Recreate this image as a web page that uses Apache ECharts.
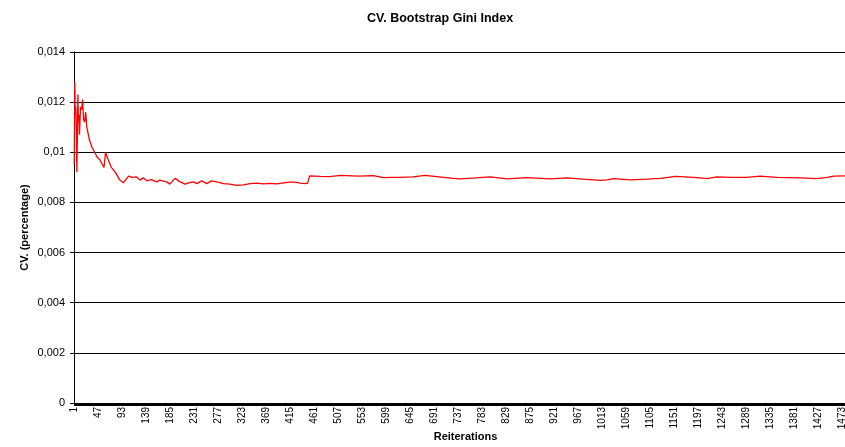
<!DOCTYPE html>
<html>
<head>
<meta charset="utf-8">
<script src="https://cdn.jsdelivr.net/npm/echarts@6/dist/echarts.min.js"></script>
<style>
	html, body { margin: 0; padding: 0; background: #fff; }
	#chartmain { width: 845px; height: 447px; }
</style>
</head>
<body>
<div id="chartmain"></div>
<script>
var iterations = [1, 2, 3, 4, 5, 6, 8, 9, 10, 11, 13, 15, 17, 19, 21, 23, 25, 30, 35, 40,
	45, 50, 55, 58, 61, 66, 72, 80, 88, 95, 105, 112, 120, 127, 133, 140, 149, 159, 165, 178,
	184, 194, 204, 213, 220, 229, 236, 245, 255, 264, 274, 287, 299, 312, 325, 338, 351, 363, 376, 389,
	402, 415, 424, 434, 443, 448, 450, 452, 472, 490, 511, 545, 574, 593, 610, 625, 650, 673, 700, 727,
	740, 770, 798, 830, 868, 913, 945, 975, 996, 1009, 1022, 1034, 1066, 1098, 1124, 1153, 1188, 1213, 1232, 1260,
	1290, 1315, 1347, 1392, 1424, 1443, 1456, 1478, 1500];
var cvValues = [0.0095, 0.0128, 0.0115, 0.0118, 0.0108, 0.0092, 0.0123, 0.0112, 0.0115, 0.0107, 0.0118, 0.0117, 0.0121, 0.0113, 0.0112, 0.0116, 0.0110, 0.0105, 0.0102, 0.0100,
	0.0098, 0.0097, 0.0095, 0.0094, 0.0100, 0.0097, 0.0094, 0.0092, 0.0089, 0.00878, 0.00905, 0.00900, 0.00902, 0.00889, 0.00898, 0.00886, 0.00891, 0.00882, 0.00889, 0.00882,
	0.00873, 0.00896, 0.00882, 0.00873, 0.00878, 0.00882, 0.00875, 0.00886, 0.00875, 0.00886, 0.00882, 0.00875, 0.00873, 0.00868, 0.00870, 0.00875, 0.00877, 0.00874, 0.00876, 0.00874,
	0.00878, 0.00881, 0.00881, 0.00877, 0.00875, 0.00877, 0.00876, 0.00906, 0.00904, 0.00903, 0.00908, 0.00905, 0.00907, 0.00899, 0.00900, 0.00900, 0.00902, 0.00908, 0.00902, 0.00896,
	0.00894, 0.00898, 0.00902, 0.00894, 0.00899, 0.00894, 0.00898, 0.00893, 0.00890, 0.00888, 0.00890, 0.00895, 0.00890, 0.00893, 0.00896, 0.00904, 0.00900, 0.00895, 0.00902, 0.00900,
	0.00900, 0.00905, 0.00900, 0.00898, 0.00895, 0.00900, 0.00905, 0.00906, 0.00906];
var totalIterations = 1500;
var yTicks = [0, 0.002, 0.004, 0.006, 0.008, 0.01, 0.012, 0.014];

var categories = [];
for (var i = 1; i <= totalIterations; i++) {
	categories.push(String(i));
}
var lineData = [];
for (var k = 0; k < iterations.length; k++) {
	lineData.push([iterations[k] - 1, cvValues[k]]);
}

var font = 'Liberation Sans, Arial, sans-serif';
var option = {
	animation : false,
	backgroundColor : '#fff',
	title : {
		text : 'CV. Bootstrap Gini Index',
		left : 362,
		top : 7,
		textStyle : { fontFamily : font, fontSize : 12.5, fontWeight : 'bold', color : '#000' }
	},
	grid : {
		left : 74,
		right : -12,
		top : 52,
		bottom : 44,
		outerBoundsMode : 'none',
		containLabel : false
	},
	xAxis : {
		type : 'category',
		data : categories,
		boundaryGap : true,
		name : 'Reiterations',
		nameLocation : 'middle',
		nameGap : 28,
		nameMoveOverlap : false,
		nameTextStyle : { fontFamily : font, fontSize : 11, fontWeight : 'bold', color : '#000' },
		axisLine : { lineStyle : { color : '#000', width : 1 } },
		axisTick : { show : true, interval : 0, length : 3, lineStyle : { color : '#000' } },
		axisLabel : {
			interval : 45,
			rotate : 90,
			margin : 4,
			fontFamily : font,
			fontSize : 10,
			color : '#000'
		},
		splitLine : { show : false }
	},
	yAxis : {
		type : 'value',
		min : yTicks[0],
		max : yTicks[yTicks.length - 1],
		interval : 0.002,
		name : 'CV. (percentage)',
		nameLocation : 'middle',
		nameGap : 44,
		nameMoveOverlap : false,
		nameTextStyle : { fontFamily : font, fontSize : 11, fontWeight : 'bold', color : '#000' },
		axisLine : { show : true, lineStyle : { color : '#000', width : 1 } },
		axisTick : { show : true, length : 4, lineStyle : { color : '#000' } },
		axisLabel : {
			margin : 9,
			fontFamily : font,
			fontSize : 11,
			color : '#000',
			formatter : function(v) {
				return String(+v.toFixed(3)).replace('.', ',');
			}
		},
		splitLine : { show : true, lineStyle : { color : '#000', width : 1 } }
	},
	series : [ {
		name : 'CV',
		type : 'line',
		data : lineData,
		showSymbol : false,
		symbol : 'none',
		lineStyle : { color : '#ff0000', width : 1.3 },
		itemStyle : { color : '#ff0000' }
	} ]
};
var myChart = echarts.init(document.getElementById('chartmain'));
myChart.setOption(option);
</script>
</body>
</html>
